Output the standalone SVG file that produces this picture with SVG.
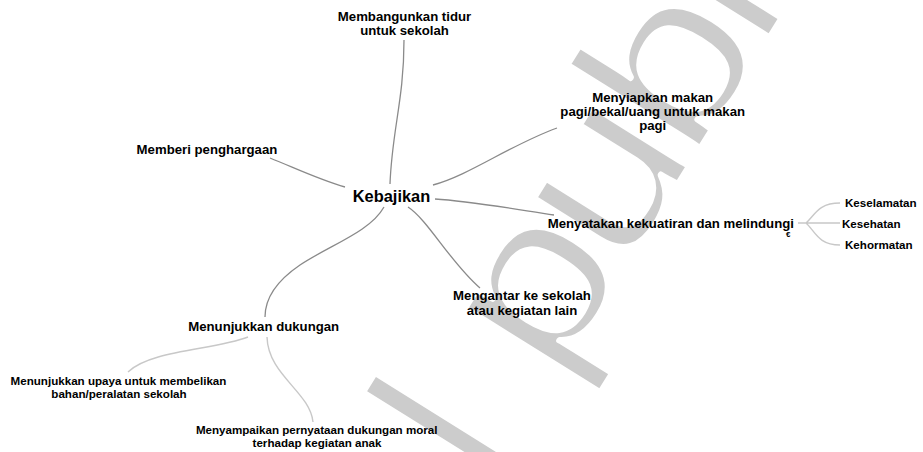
<svg xmlns="http://www.w3.org/2000/svg" width="923" height="452" viewBox="0 0 923 452">
<style>
.t{font-family:"Liberation Sans",Arial,Helvetica,sans-serif;font-weight:bold;fill:#000}
.m{font-size:13.2px}
.s{font-size:11.6px}
.c{text-anchor:middle}
.main{fill:none;stroke:#8a8a8a;stroke-width:1.3}
.sub{fill:none;stroke:#c8c8c8;stroke-width:1.4}
.wm{font-family:"Liberation Sans",Arial,sans-serif;font-weight:normal;font-size:215px;fill:#cccccc;stroke:#ffffff;stroke-width:5;stroke-linejoin:round}
</style>
<rect width="923" height="452" fill="#ffffff"/>
<g id="watermark" transform="translate(592.5,319.7) rotate(-58) scale(1.2,1)">
<text class="wm" x="-167" y="0">l</text>
<text class="wm" x="-62.4" y="0" letter-spacing="-11">publi</text>
</g>
<g id="connectors">
<path class="main" d="M390,184 C392,130 404,100 404,40"/>
<path class="main" d="M270,158 C295,168 320,180 345,187"/>
<path class="main" d="M433,185 C470,175 510,145 557,128"/>
<path class="main" d="M435,199 C470,201 520,210 554,215"/>
<path class="main" d="M408,207 C428,220 450,262 480,288"/>
<path class="main" d="M384,207 C370,232 330,245 300,265 C275,282 265,300 265,317"/>
<path class="sub" d="M248,337 C215,350 150,350 128,372"/>
<path class="sub" d="M267,337 C268,375 310,392 313,422"/>
<path class="sub" d="M798,223 H806 M806,223 C815,215 818,203 840,203 M806,223 H840 M806,223 C815,231 818,245 840,245"/>
</g>
<g id="n-root"><text class="t c" x="391.5" y="201.5" style="font-size:16.4px">Kebajikan</text></g>
<g id="n-membangunkan"><text class="t m c" x="404.5" y="20.6">Membangunkan tidur</text><text class="t m c" x="404.5" y="34.8">untuk sekolah</text></g>
<g id="n-memberi"><text class="t m" x="136.6" y="154.3">Memberi penghargaan</text></g>
<g id="n-menyiapkan"><text class="t m c" x="652.7" y="102.3">Menyiapkan makan</text><text class="t m c" x="652.7" y="116.3">pagi/bekal/uang untuk makan</text><text class="t m c" x="652.7" y="130">pagi</text></g>
<g id="n-menyatakan"><text class="t m" x="547.7" y="227.7">Menyatakan kekuatiran dan melindungi</text><text class="t" x="786" y="237" style="font-size:8px">€</text></g>
<g id="n-keselamatan"><text class="t s" x="845" y="206.6">Keselamatan</text></g>
<g id="n-kesehatan"><text class="t s" x="842" y="227.7">Kesehatan</text></g>
<g id="n-kehormatan"><text class="t s" x="845" y="248.7">Kehormatan</text></g>
<g id="n-mengantar"><text class="t m c" x="522" y="300">Mengantar ke sekolah</text><text class="t m c" x="522" y="315">atau kegiatan lain</text></g>
<g id="n-menunjukkan"><text class="t m c" x="263.7" y="330.7">Menunjukkan dukungan</text></g>
<g id="n-upaya"><text class="t s c" x="118.5" y="385">Menunjukkan upaya untuk membelikan</text><text class="t s c" x="119" y="398.4">bahan/peralatan sekolah</text></g>
<g id="n-menyampaikan"><text class="t s c" x="316.7" y="434.3">Menyampaikan pernyataan dukungan moral</text><text class="t s c" x="317" y="447">terhadap kegiatan anak</text></g>
</svg>
